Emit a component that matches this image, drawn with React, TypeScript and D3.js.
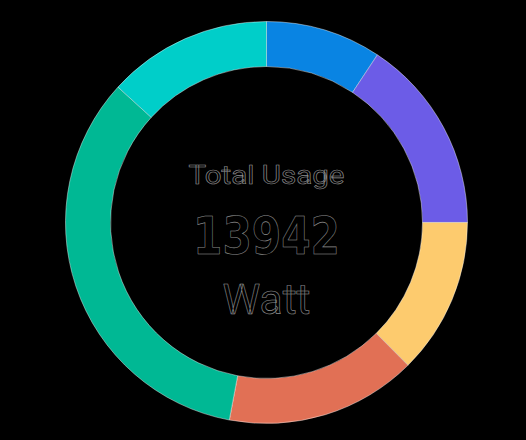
import React, {useEffect, useRef} from 'react';
import * as d3 from 'd3';

// usage per source, clockwise from 12 o'clock
const sources = ['Solar', 'Wind', 'Battery', 'Grid', 'Generator', 'Hydro'];
const usage = [1297, 2188, 1754, 2145, 4713, 1845];
const colors = ['#0984e3', '#6c5ce7', '#fdcb6e', '#e17055', '#00b894', '#00cec9'];
const centerLabels = ['Total Usage', 'Watt'];

const App = () => {
  const ref = useRef<SVGSVGElement>(null);

  useEffect(() => {
    const cx = 266.5;
    const cy = 222.5;
    const outer = 201;
    const inner = 156;

    const svg = d3.select(ref.current);
    svg.selectAll('*').remove();

    const data = sources.map((s, i) => ({name: s, value: usage[i], color: colors[i]}));

    const pie = d3.pie<any>()
      .sort(null)
      .value(d => d.value);

    const arc = d3.arc<any>()
      .innerRadius(inner)
      .outerRadius(outer);

    const g = svg.append('g')
      .attr('transform', `translate(${cx},${cy})`);

    g.selectAll('path')
      .data(pie(data))
      .join('path')
      .attr('d', arc)
      .attr('fill', d => d.data.color)
      .attr('stroke', 'rgba(255,255,255,0.7)')
      .attr('stroke-width', 0.6);

    const total = d3.sum(usage);

    const text = (str, y, size, weight, len, family) => g.append('text')
      .attr('x', 0)
      .attr('y', y)
      .attr('text-anchor', 'middle')
      .attr('font-family', family)
      .attr('font-size', size)
      .attr('font-weight', weight)
      .attr('textLength', len)
      .attr('lengthAdjust', 'spacingAndGlyphs')
      .attr('fill', '#000')
      .attr('stroke', 'rgba(235,235,235,0.6)')
      .attr('stroke-width', 0.6)
      .text(str);

    text(centerLabels[0], 184 - cy, 25, 'normal', 156, 'Roboto, sans-serif');
    text(String(total), 254 - cy, 51, 'bold', 147, '"DejaVu Sans", sans-serif');
    text(centerLabels[1], 314 - cy, 42, 'normal', 88, 'Roboto, sans-serif');
  }, []);

  return (
    <svg ref={ref} width={526} height={440}
      style={{position: 'absolute', left: 0, top: 0, background: '#000', display: 'block'}}/>
  );
};

export default App;
